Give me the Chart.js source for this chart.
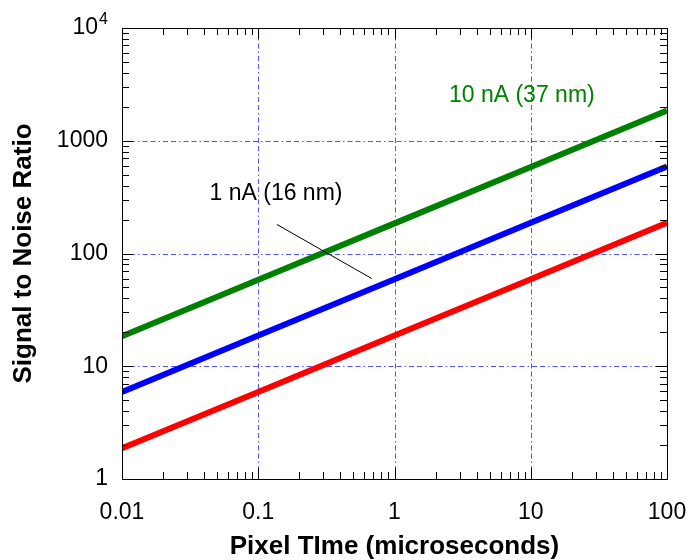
<!DOCTYPE html>
<html>
<head>
<meta charset="utf-8">
<script src="https://cdn.jsdelivr.net/npm/chart.js@4.4.0/dist/chart.umd.min.js"></script>
<style>
  html, body { margin: 0; padding: 0; background: #fff; }
  #wrap { width: 687px; height: 560px; position: relative; }
</style>
</head>
<body>
<div id="wrap"><canvas id="snrChart"></canvas></div>
<script>
// --- data ---
const pixelTimes = [0.01, 0.1, 1, 10, 100];            // microseconds
const snr10nA  = [18.5, 58.5, 185, 585, 1850];          // green, 10 nA (37 nm)
const snr1nA   = [5.9, 18.7, 59, 187, 590];             // blue, 1 nA (16 nm)
const snrLow   = [1.87, 5.9, 18.7, 59, 187];            // red

const xDecades = [0.01, 0.1, 1, 10, 100];
const yDecades = [1, 10, 100, 1000, 10000];
const xTickLabels = ['0.01', '0.1', '1', '10', '100'];
const yTickLabels = ['1', '10', '100', '1000', ''];     // 10^4 drawn with a real superscript below

// leader line for the "1 nA" label (data coords)
const leaderX = [0.137, 0.68];
const leaderY = [181, 60];

const labels = [
  { text: '10 nA (37 nm)', x: 8.6, y: 2500, color: '#008000' },
  { text: '1 nA (16 nm)', x: 0.135, y: 340, color: '#000' }
];

const FONT = "'Liberation Sans', Arial, Helvetica, sans-serif";
const GRID_BLUE = '#5050ff';

function isDecade(v) {
  const l = Math.log10(v);
  return Math.abs(l - Math.round(l)) < 1e-9;
}
function logTicks(decades) {
  const out = [];
  for (let i = 0; i < decades.length - 1; i++) {
    for (let m = 1; m <= 9; m++) out.push({ value: m === 1 ? decades[i] : m * decades[i] });
  }
  out.push({ value: decades[decades.length - 1] });
  return out;
}
function labelFor(v, decades, names) {
  const i = decades.findIndex(d => Math.abs(d - v) / d < 1e-9);
  return i >= 0 ? names[i] : '';
}
function noPad(s) {
  s.paddingLeft = 0; s.paddingRight = 0; s.paddingTop = 0; s.paddingBottom = 0;
}

// dash-dot grid at the decades, under the data
const gridPlugin = {
  id: 'decadeGrid',
  beforeDatasetsDraw(chart) {
    const { ctx, chartArea: a, scales: { x, y } } = chart;
    ctx.save();
    ctx.strokeStyle = GRID_BLUE;
    ctx.lineWidth = 1;
    ctx.setLineDash([5, 3, 5, 3, 1.5, 3]);
    ctx.beginPath();
    xDecades.forEach(v => {
      const px = Math.round(x.getPixelForValue(v)) + 0.5;
      ctx.moveTo(px, a.bottom); ctx.lineTo(px, a.top);
    });
    yDecades.forEach(v => {
      const py = Math.round(y.getPixelForValue(v)) + 0.5;
      ctx.moveTo(a.left, py); ctx.lineTo(a.right, py);
    });
    ctx.stroke();
    ctx.restore();
  }
};

// inward ticks on all four sides + frame + text labels
const framePlugin = {
  id: 'frame',
  afterDraw(chart) {
    const { ctx, chartArea: a, scales: { x, y } } = chart;
    ctx.save();
    ctx.setLineDash([]);
    ctx.strokeStyle = '#000';
    ctx.lineWidth = 1;
    ctx.beginPath();
    x.ticks.forEach(t => {
      const px = Math.round(x.getPixelForValue(t.value)) + 0.5;
      const len = isDecade(t.value) ? 11 : 7;
      ctx.moveTo(px, a.bottom); ctx.lineTo(px, a.bottom - len);
      ctx.moveTo(px, a.top); ctx.lineTo(px, a.top + len);
    });
    y.ticks.forEach(t => {
      const py = Math.round(y.getPixelForValue(t.value)) + 0.5;
      const len = isDecade(t.value) ? 11 : 7;
      ctx.moveTo(a.left, py); ctx.lineTo(a.left + len, py);
      ctx.moveTo(a.right, py); ctx.lineTo(a.right - len, py);
    });
    ctx.stroke();
    ctx.strokeRect(Math.round(a.left) + 0.5, Math.round(a.top) + 0.5,
                   Math.round(a.right - a.left), Math.round(a.bottom - a.top));

    // 10^4 label with superscript
    const topY = y.getPixelForValue(yDecades[yDecades.length - 1]);
    const rightX = a.left - 14;
    ctx.fillStyle = '#000';
    ctx.textBaseline = 'middle';
    ctx.textAlign = 'right';
    ctx.font = '16px ' + FONT;
    ctx.fillText('4', rightX, topY - 8);
    const supW = ctx.measureText('4').width;
    ctx.font = '23px ' + FONT;
    ctx.fillText('10', rightX - supW - 1, topY);

    ctx.font = '23px ' + FONT;
    ctx.textAlign = 'center';
    labels.forEach(l => {
      ctx.fillStyle = l.color;
      ctx.fillText(l.text, x.getPixelForValue(l.x), y.getPixelForValue(l.y));
    });
    ctx.restore();
  }
};

const ctx = document.getElementById('snrChart').getContext('2d');
new Chart(ctx, {
  type: 'line',
  data: {
    datasets: [
      { data: leaderX.map((v, i) => ({ x: v, y: leaderY[i] })), borderColor: '#000', borderWidth: 1 },
      { data: pixelTimes.map((v, i) => ({ x: v, y: snr10nA[i] })), borderColor: '#008000', borderWidth: 6 },
      { data: pixelTimes.map((v, i) => ({ x: v, y: snr1nA[i] })), borderColor: '#0000ff', borderWidth: 6 },
      { data: pixelTimes.map((v, i) => ({ x: v, y: snrLow[i] })), borderColor: '#ff0000', borderWidth: 6 }
    ]
  },
  options: {
    responsive: true,
    maintainAspectRatio: false,
    animation: false,
    devicePixelRatio: 1,
    elements: { point: { radius: 0 }, line: { tension: 0, borderCapStyle: 'butt' } },
    layout: { padding: { top: 28, right: 20, left: 0, bottom: 0 } },
    plugins: { legend: { display: false }, tooltip: { enabled: false } },
    scales: {
      x: {
        type: 'logarithmic',
        min: 0.01, max: 100,
        afterBuildTicks: s => { s.ticks = logTicks(xDecades); },
        afterFit: s => { s.height = 81; noPad(s); },
        ticks: {
          autoSkip: false, maxRotation: 0, minRotation: 0, padding: 20,
          color: '#000', font: { family: FONT, size: 23 },
          callback: v => labelFor(v, xDecades, xTickLabels)
        },
        grid: { display: false, drawTicks: false },
        border: { display: false },
        title: {
          display: true, text: 'Pixel TIme (microseconds)', color: '#000',
          font: { family: FONT, size: 26, weight: 'bold', lineHeight: 1 },
          padding: { top: 0, bottom: 0 }
        }
      },
      y: {
        type: 'logarithmic',
        min: 1, max: 10000,
        afterBuildTicks: s => { s.ticks = logTicks(yDecades); },
        afterFit: s => { s.width = 122; noPad(s); },
        ticks: {
          autoSkip: false, padding: 14,
          color: '#000', font: { family: FONT, size: 23 },
          callback: v => labelFor(v, yDecades, yTickLabels)
        },
        grid: { display: false, drawTicks: false },
        border: { display: false },
        title: {
          display: true, text: 'Signal to Noise Ratio', color: '#000',
          font: { family: FONT, size: 26, weight: 'bold', lineHeight: 1 },
          padding: { top: 11, bottom: 0 }
        }
      }
    }
  },
  plugins: [gridPlugin, framePlugin]
});
</script>
</body>
</html>
